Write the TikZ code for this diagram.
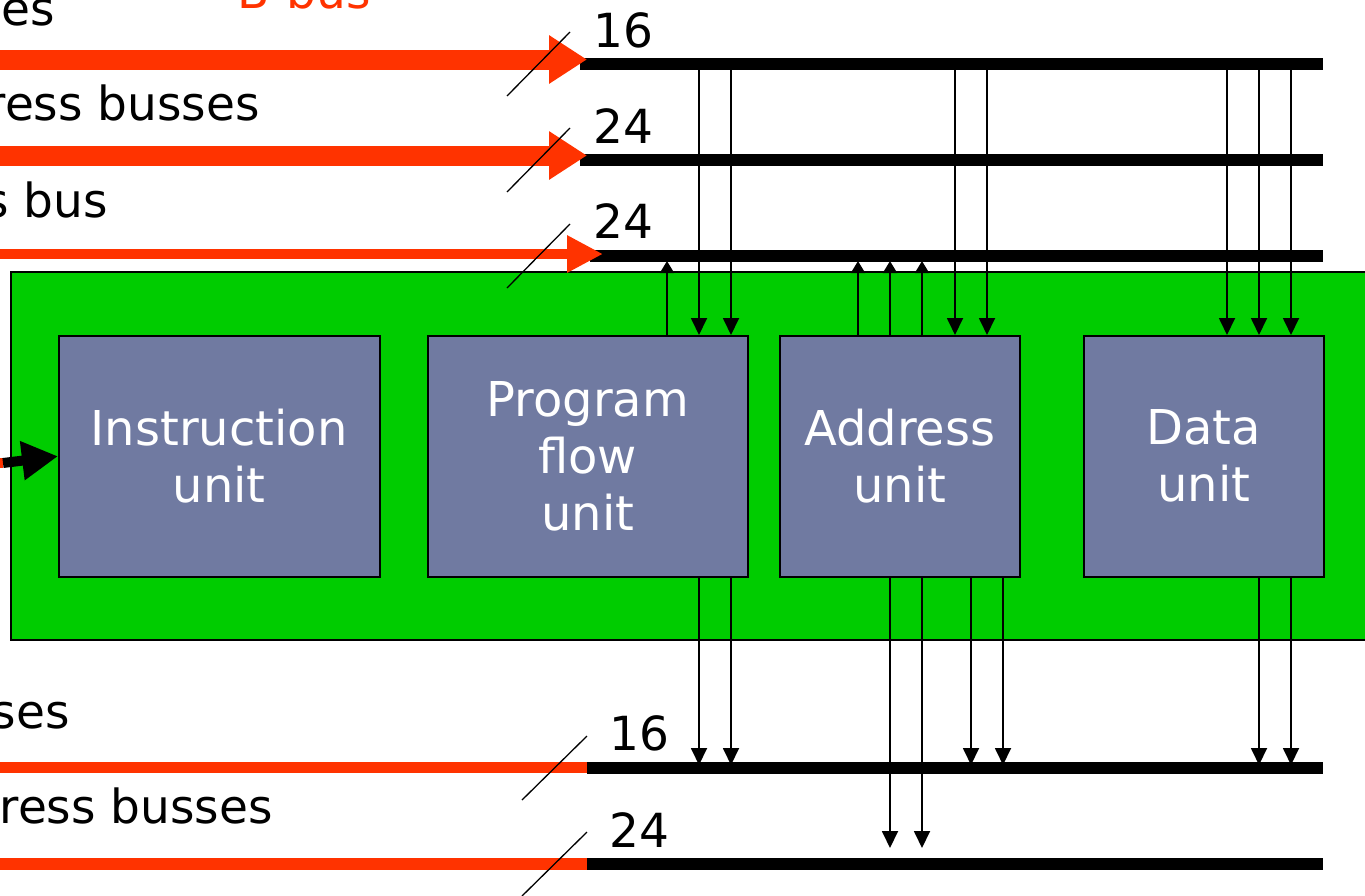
\documentclass[tikz,border=0pt]{standalone}
\usepackage{fontspec}
\setmainfont{DejaVu Sans}
\usetikzlibrary{arrows.meta}
\definecolor{busred}{RGB}{255,51,0}
\definecolor{coregreen}{RGB}{0,204,0}
\definecolor{unitblue}{RGB}{112,122,161}

\begin{document}
\begin{tikzpicture}[x=1pt,y=-1pt,
  unit/.style={draw=black, line width=1.5pt, fill=unitblue, text=white, align=center,
    inner sep=0pt, font=\fontsize{48}{57}\selectfont, minimum height=241pt, anchor=north west},
  sig/.style={line width=1.8pt, -{Triangle[width=16pt,length=17pt]}},
  upsig/.style={line width=1.8pt, -{Triangle[width=14pt,length=12pt]}},
  bus/.style={line width=12pt},
  slash/.style={line width=1.3pt},
  lbl/.style={font=\fontsize{47}{47}\selectfont, inner sep=0pt},
  redin/.style={busred, line width=#1},
]
\useasboundingbox (0,0) rectangle (1365,895);
\begin{scope}
\clip (0,0) rectangle (1365,895);

% texts on the left
\node[lbl, anchor=base east] (t1) at (55,25) {ses};
\node[lbl, anchor=base west, text=busred] (t0) at (237,8) {B-bus};
\node[lbl, anchor=base east] (t2) at (260,120) {ress busses};
\node[lbl, anchor=base east] (t3) at (108,217) {s bus};
\node[lbl, anchor=base east] (t4) at (70,728) {ses};
\node[lbl, anchor=base east] (t5) at (273,823) {ress busses};

% core block and units
\node[draw=black, line width=1.5pt, fill=coregreen, minimum width=1380pt, minimum height=368pt,
  anchor=north west, inner sep=0pt] (core) at (10,271) {};
\node[unit, minimum width=321pt] (iu) at (58,335) {Instruction\\unit};
\node[unit, minimum width=320pt] (pf) at (427,335) {Program\\flow\\unit};
\node[unit, minimum width=240pt] (au) at (779,335) {Address\\unit};
\node[unit, minimum width=240pt] (du) at (1083,335) {Data\\unit};

% bus lines
\coordinate (busA) at (580,64);   \coordinate (busAe) at (1323,64);
\coordinate (busB) at (580,160);  \coordinate (busBe) at (1323,160);
\coordinate (busC) at (590,255.5);\coordinate (busCe) at (1323,255.5);
\coordinate (busD) at (587,767.5);\coordinate (busDe) at (1323,767.5);
\coordinate (busE) at (587,863.5);\coordinate (busEe) at (1323,863.5);
\coordinate (busCbot) at (0,261);
\coordinate (busDtop) at (0,765);
\coordinate (stopE) at (0,848);

% signal columns
\foreach \n/\x in {u1/667, u2/858, u3/890, u4/922,
                   d1/699, d2/731, d3/955, d4/987, d5/1227, d6/1259, d7/1291,
                   e3/971, e4/1003}
  \coordinate (\n) at (\x,0);

% unit reads from the top bus
\foreach \n/\u in {d1/pf, d2/pf, d3/au, d4/au, d5/du, d6/du, d7/du}
  \draw[sig] (\n |- busA) -- (\n |- \u.north);
% unit drives the third bus
\foreach \n/\u in {u1/pf, u2/au, u3/au, u4/au}
  \draw[upsig] (\n |- \u.north) -- (\n |- busCbot);
% unit outputs to the lower busses
\foreach \n/\u in {d1/pf, d2/pf, e3/au, e4/au, d6/du, d7/du}
  \draw[sig] (\n |- \u.south) -- (\n |- busDtop);
\foreach \n in {u3, u4}
  \draw[sig] (\n |- au.south) -- (\n |- stopE);

\draw[bus] (busA) -- (busAe);
\draw[bus] (busB) -- (busBe);
\draw[bus] (busC) -- (busCe);
\draw[bus] (busD) -- (busDe);
\draw[bus] (busE) -- (busEe);

% incoming red busses
\coordinate (inA) at (-10,59.5);  \coordinate (tipA) at (587,59.5);
\coordinate (inB) at (-10,155.5); \coordinate (tipB) at (587,155.5);
\coordinate (inC) at (-10,254);   \coordinate (tipC) at (603,254);
\draw[redin=20pt, -{Triangle[width=46pt,length=38pt]}] (inA) -- (tipA);
\draw[redin=20pt, -{Triangle[width=46pt,length=38pt]}] (inB) -- (tipB);
\draw[redin=10pt, -{Triangle[width=35pt,length=36pt]}] (inC) -- (tipC);
\coordinate (inD) at (-10,767.5);
\coordinate (inE) at (-10,863.5);
\draw[redin=11pt] (inD) -- (busD);
\draw[redin=12pt] (inE) -- (busE);

% bus width marks
\coordinate (sA1) at (507,96);  \coordinate (sA2) at (570,32);
\coordinate (sB1) at (507,192); \coordinate (sB2) at (570,128);
\coordinate (sC1) at (507,288); \coordinate (sC2) at (570,224);
\coordinate (sD1) at (522,800); \coordinate (sD2) at (587,736);
\coordinate (sE1) at (522,896); \coordinate (sE2) at (587,832);
\foreach \s in {A,B,C,D,E} \draw[slash] (s\s1) -- (s\s2);

\node[lbl, anchor=base west] (wA) at (593,47) {16};
\node[lbl, anchor=base west] (wB) at (593,143) {24};
\node[lbl, anchor=base west] (wC) at (593,238) {24};
\node[lbl, anchor=base west] (wD) at (609,750) {16};
\node[lbl, anchor=base west] (wE) at (609,847) {24};

% instruction input
\coordinate (iin) at (-5,463);
\coordinate (iin2) at (3,463);
\draw[redin=10pt] (iin) -- (iin2);
\draw[line width=10pt, -{Triangle[width=37pt,length=36pt]}] (iin2) -- (iu.west);
\end{scope}
\end{tikzpicture}
\end{document}
